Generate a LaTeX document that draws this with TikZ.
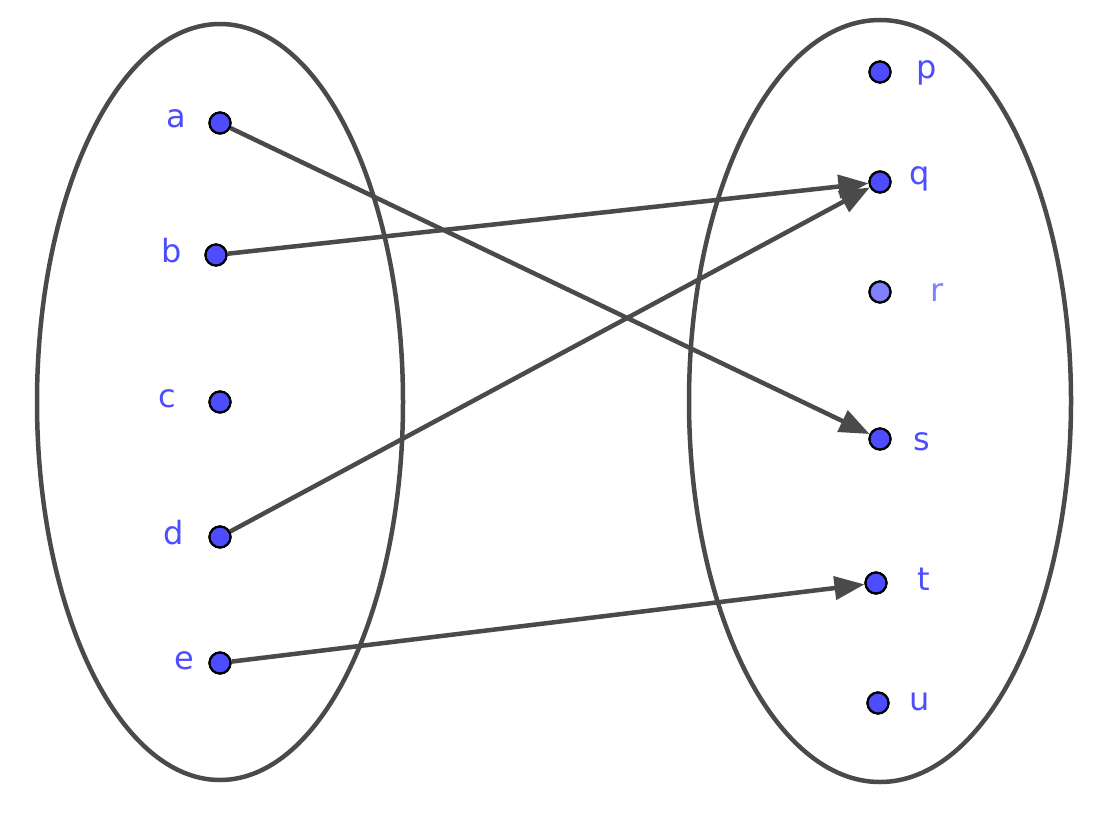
\documentclass[tikz,border=0pt]{standalone}
\usepackage{fontspec}
\setmainfont{DejaVu Sans}
\usetikzlibrary{arrows.meta}
\definecolor{ptblue}{HTML}{4D4DFF}
\definecolor{ptlight}{HTML}{8080FF}
\definecolor{ink}{HTML}{4A4A4A}
\tikzset{
  pt/.style={circle,draw=black,line width=2.2pt,fill=ptblue,inner sep=0pt,minimum size=21pt},
  ptl/.style={pt,fill=ptlight},
  lbl/.style={text=ptblue,font=\fontsize{32}{36}\selectfont,inner sep=0pt},
  lbll/.style={lbl,text=ptlight},
  setring/.style={draw=ink,line width=4.5pt},
  mapto/.style={draw=ink,line width=4.5pt,-{Triangle[length=30pt,width=23pt]}},
}
\begin{document}
\begin{tikzpicture}[x=1pt,y=-1pt]
\useasboundingbox (0,0) rectangle (1097,827);
\draw[setring] (220,402) ellipse [x radius=183,y radius=378];
\draw[setring] (880,401) ellipse [x radius=191,y radius=381];
% points
\node[pt] (a) at (220,123) {};
\node[pt] (b) at (216,255) {};
\node[pt] (c) at (220,402) {};
\node[pt] (d) at (220,537) {};
\node[pt] (e) at (220,663) {};
\node[pt] (p) at (880,72) {};
\node[pt] (q) at (880,182) {};
\node[ptl] (r) at (880,292) {};
\node[pt] (s) at (880,439) {};
\node[pt] (t) at (876,583) {};
\node[pt] (u) at (878,703) {};
% labels
\node[lbl] (la) at (176,119) {a};
\node[lbl] (lb) at (172,251) {b};
\node[lbl] (lc) at (167,399) {c};
\node[lbl] (ld) at (174,533) {d};
\node[lbl] (le) at (184,661) {e};
\node[lbl] (lp) at (927,73) {p};
\node[lbl] (lq) at (920,179) {q};
\node[lbll] (lr) at (937,293) {r};
\node[lbl] (ls) at (922,442) {s};
\node[lbl] (lt) at (924,579) {t};
\node[lbl] (lu) at (920,702) {u};
% arrows
\draw[mapto] (a) -- (s);
\draw[mapto] (b) -- (q);
\draw[mapto] (d) -- (q);
\draw[mapto] (e) -- (t);
% redraw points on top
\foreach \n/\s in {a/pt,b/pt,c/pt,d/pt,e/pt,p/pt,q/pt,r/ptl,s/pt,t/pt,u/pt}
  \node[\s] at (\n) {};
\end{tikzpicture}
\end{document}
